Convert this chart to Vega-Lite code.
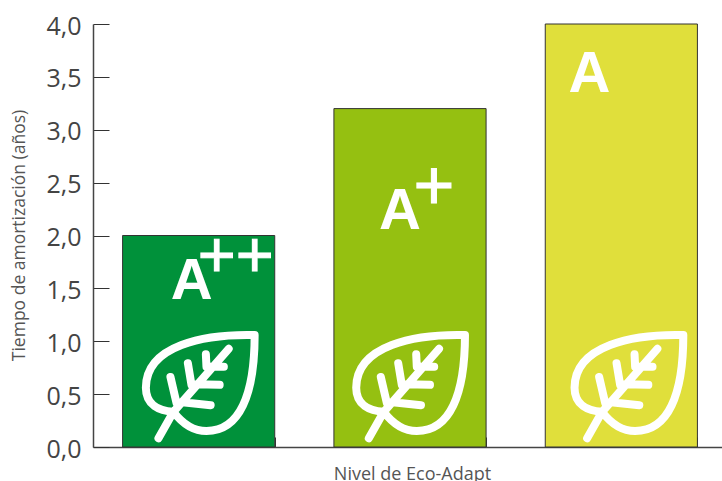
{"$schema":"https://vega.github.io/schema/vega-lite/v6.json","width":634,"height":423,"autosize":"none","padding":{"left":93,"top":24,"right":0,"bottom":34},"background":"white","config":{"view":{"stroke":null},"font":"Open Sans"},"data":{"values":[{"level":"A++","value":2.0},{"level":"A+","value":3.2},{"level":"A","value":4.0}]},"encoding":{"x":{"field":"level","type":"nominal","sort":null,"scale":{"paddingInner":0.28,"paddingOuter":0.14},"axis":{"title":"Nivel de Eco-Adapt","titleFont":"Open Sans","titleFontSize":18,"titleFontWeight":"normal","titleColor":"#555555","titlePadding":18,"titleX":319,"labels":false,"tickBand":"extent","tickSize":-10,"tickColor":"#333333","domainColor":"#444444","domainWidth":1.5,"labelAngle":0}},"y":{"field":"value","type":"quantitative","scale":{"domain":[0,4],"nice":false},"axis":{"title":"Tiempo de amortización (años)","titleFont":"Open Sans","titleFontSize":17.5,"titleFontWeight":"normal","titleColor":"#555555","titleX":-65,"titleY":211,"values":[0,0.5,1,1.5,2,2.5,3,3.5,4],"labelExpr":"replace(format(datum.value,'.1f'),'.',',')","labelFont":"Open Sans","labelFontSize":25,"labelColor":"#444444","labelPadding":28,"labelOffset":2,"tickSize":-16,"tickColor":"#333333","domainColor":"#444444","domainWidth":1.5,"grid":false}}},"layer":[{"mark":{"type":"bar","stroke":"#333333","strokeWidth":1},"encoding":{"color":{"field":"level","type":"nominal","sort":null,"legend":null,"scale":{"domain":["A++","A+","A"],"range":["#00913A","#95C011","#E0DF3B"]}}}},{"mark":{"type":"point","filled":false,"stroke":"white","strokeWidth":8,"strokeCap":"round","strokeJoin":"round","opacity":1,"size":14400,"yOffset":-61,"xOffset":{"expr":"datum.level==='A'?6:(datum.level==='A+'?-1:0)"},"shape":"M0.933 -0.85 C0.1 -0.87 -0.88 -0.68 -0.88 0.03 C-0.88 0.32 -0.65 0.42 -0.42 0.43 C-0.23 0.68 -0.02 0.75 0.13 0.75 C0.68 0.75 0.933 0.15 0.933 -0.85 Z M-0.67 0.87 L-0.42 0.43 L0.5 -0.62 M-0.47 -0.15 L-0.37 0.28 M-0.27 0.27 L0.2 0.32 M-0.18 -0.38 L-0.12 -0.02 M-0.07 -0.03 L0.35 -0.02 M0.12 -0.53 L0.13 -0.32 M0.2 -0.32 L0.42 -0.32"},"encoding":{"y":{"datum":0}}},{"transform":[{"filter":"datum.level==='A++'"}],"mark":{"type":"text","text":"A","font":"Liberation Sans","fontWeight":"bold","fontSize":58,"baseline":"alphabetic","xOffset":-7,"yOffset":63},"encoding":{"color":{"value":"white"}}},{"transform":[{"filter":"datum.level==='A+'"}],"mark":{"type":"text","text":"A","font":"Liberation Sans","fontWeight":"bold","fontSize":58,"baseline":"alphabetic","xOffset":-10,"yOffset":120},"encoding":{"color":{"value":"white"}}},{"transform":[{"filter":"datum.level==='A'"}],"mark":{"type":"text","text":"A","font":"Liberation Sans","fontWeight":"bold","fontSize":58,"baseline":"alphabetic","xOffset":-32,"yOffset":68},"encoding":{"color":{"value":"white"}}},{"transform":[{"filter":"datum.level==='A++'"}],"mark":{"type":"text","text":"++","font":"Liberation Sans","fontSize":65,"stroke":"white","strokeWidth":1,"baseline":"alphabetic","xOffset":37,"yOffset":41},"encoding":{"color":{"value":"white"}}},{"transform":[{"filter":"datum.level==='A+'"}],"mark":{"type":"text","text":"+","font":"Liberation Sans","fontSize":70,"stroke":"white","strokeWidth":1,"baseline":"alphabetic","xOffset":24,"yOffset":100},"encoding":{"color":{"value":"white"}}}]}
